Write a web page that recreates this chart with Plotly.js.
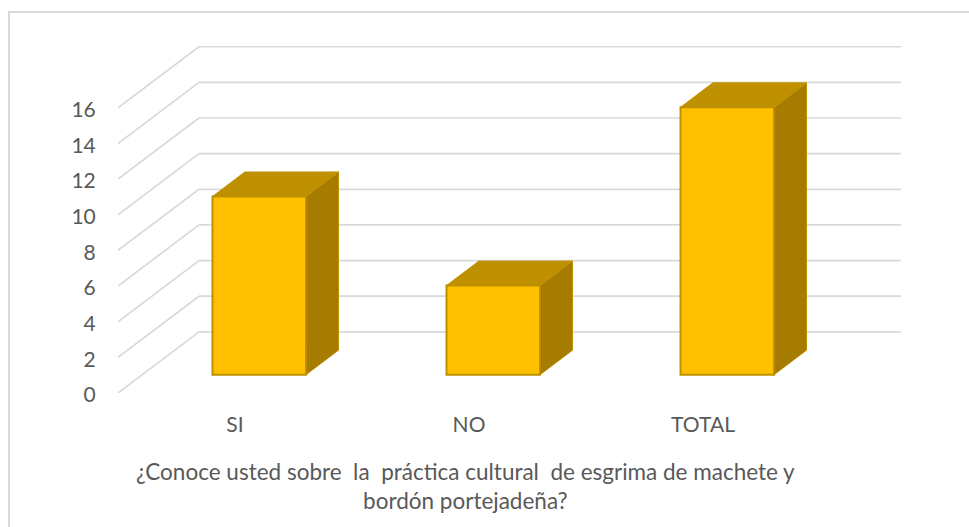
<!DOCTYPE html>
<html>
<head>
<meta charset="utf-8">
<script src="https://cdn.plot.ly/plotly-3.0.1.min.js"></script>
<style>html,body{margin:0;padding:0;background:#fff}</style>
</head>
<body>
<div id="chart" style="width:969px;height:527px"></div>
<script>
const categories = ["SI", "NO", "TOTAL"];
const values = [10, 5, 15];
const tickValues = [0, 2, 4, 6, 8, 10, 12, 14, 16];
const chartTitle = "¿Conoce usted sobre  la  práctica cultural  de esgrima de machete y<br>bordón portejadeña?";

// Oblique projection: how far one full unit of depth shifts in data units
const depthX = 0.346;
const depthY = 3.43;
const barWidth = 0.4;
const depthFront = 0.30;
const depthBack = 0.70;

const W = 969, H = 527, ML = 118, MR = 68, MT = 46, MB = 134;
const plotW = W - ML - MR, plotH = H - MT - MB;
const paperX = p => (p - ML) / plotW;
const paperY = p => (H - MB - p) / plotH;

const positions = categories.map((_, i) => i);
const GRID = "#d9d9d9";
const shapes = [];
tickValues.forEach(v => {
  shapes.push({type:"line", layer:"below", xref:"x", yref:"y", x0:-0.5, y0:v, x1:-0.5+depthX, y1:v+depthY, line:{color:GRID,width:1.7}});
  shapes.push({type:"line", layer:"below", xref:"x", yref:"y", x0:-0.5+depthX, y0:v+depthY, x1:2.5+depthX, y1:v+depthY, line:{color:GRID,width:1.7}});
});
// chart frame: only the top and left edges are visible
shapes.push({type:"line", layer:"below", xref:"paper", yref:"paper", x0:paperX(9), x1:paperX(969), y0:paperY(12), y1:paperY(12), line:{color:GRID,width:2}});
shapes.push({type:"line", layer:"below", xref:"paper", yref:"paper", x0:paperX(9), x1:paperX(9), y0:paperY(11), y1:paperY(527), line:{color:GRID,width:2}});

const px = d => depthX * d, py = d => depthY * d;
const traces = [{
  type:"bar", x: positions.map(p => p + px(depthFront)), y: values,
  base: values.map(() => py(depthFront)), width: barWidth,
  marker:{color:"#FFC000", line:{color:"#BF9000", width:2}}, hoverinfo:"skip"
}];
positions.forEach((p, i) => {
  const xl = p - barWidth/2, xr = p + barWidth/2, v = values[i];
  const pt = (x, y, d) => [x + px(d), y + py(d)];
  const top = [pt(xl,v,depthFront), pt(xr,v,depthFront), pt(xr,v,depthBack), pt(xl,v,depthBack), pt(xl,v,depthFront)];
  const side = [pt(xr,0,depthFront), pt(xr,0,depthBack), pt(xr,v,depthBack), pt(xr,v,depthFront), pt(xr,0,depthFront)];
  traces.push({type:"scatter", mode:"lines", x:side.map(q=>q[0]), y:side.map(q=>q[1]), fill:"toself", fillcolor:"#A67C00", line:{color:"#BF9000",width:1}, hoverinfo:"skip"});
  traces.push({type:"scatter", mode:"lines", x:top.map(q=>q[0]), y:top.map(q=>q[1]), fill:"toself", fillcolor:"#BF9000", line:{color:"#BF9000",width:1}, hoverinfo:"skip"});
});

const FONT = "Lato, Carlito, sans-serif";
const layout = {
  width:W, height:H, showlegend:false,
  paper_bgcolor:"#fff", plot_bgcolor:"rgba(0,0,0,0)",
  margin:{l:ML, r:MR, t:MT, b:MB, pad:0},
  font:{family:FONT, size:21, color:"#595959"},
  xaxis:{range:[-0.5, 2.5+depthX], tickmode:"array", tickvals:positions, ticktext:categories,
    showgrid:false, zeroline:false, showline:false, ticks:"outside", ticklen:13, tickcolor:"rgba(0,0,0,0)", fixedrange:true},
  yaxis:{range:[0, 19.47], tickmode:"array", tickvals:tickValues, ticklabelshift:2,
    showgrid:false, zeroline:false, showline:false, ticks:"outside", ticklen:17, tickcolor:"rgba(0,0,0,0)", fixedrange:true},
  shapes: shapes,
  annotations:[{text:chartTitle, xref:"paper", yref:"paper", x:paperX(465), y:paperY(456), yanchor:"top", xanchor:"center", align:"center", showarrow:false, font:{family:FONT,size:22.5,color:"#595959"}}]
};
Plotly.newPlot("chart", traces, layout, {displayModeBar:false, staticPlot:true});
</script>
</body>
</html>
